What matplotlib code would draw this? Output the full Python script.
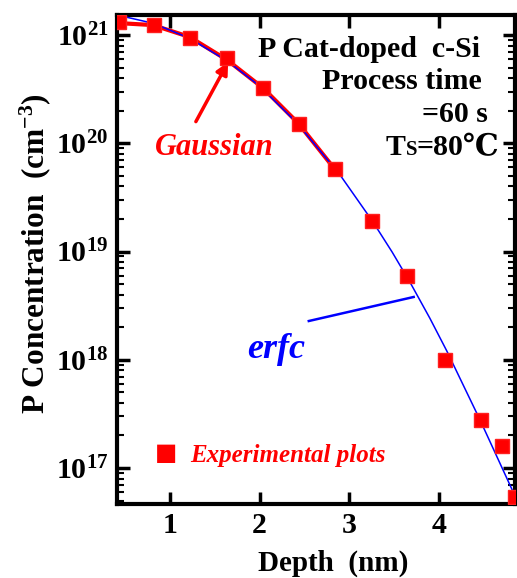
import matplotlib
matplotlib.use("Agg")
import matplotlib.pyplot as plt
import numpy as np

# measured SIMS profile
depth = [0.43, 0.82, 1.22, 1.64, 2.04, 2.44, 2.84, 3.25, 3.65, 4.07, 4.47, 4.71, 4.85]
conc = [1.32e21, 1.24e21, 9.4e20, 6.1e20, 3.24e20, 1.5e20, 5.8e19,
        1.9e19, 5.9e18, 1.0e18, 2.8e17, 1.6e17, 5.4e16]

# Gaussian fit curve (log10 of concentration)
gauss_x = [0.41, 0.81, 1.22, 1.64, 2.04, 2.43, 2.86]
gauss_logc = [21.111, 21.092, 20.982, 20.769, 20.510, 20.187, 19.74]

# erfc fit curve (log10 of concentration)
erfc_x = [0.41, 0.81, 1.22, 1.64, 2.00, 2.42, 2.90, 3.26, 3.48, 3.68, 3.90, 4.09, 4.46, 4.87]
erfc_logc = [21.185, 21.109, 20.970, 20.760, 20.530, 20.186, 19.706, 19.281,
             18.995, 18.715, 18.385, 18.081, 17.445, 16.707]

xticks = [1, 2, 3, 4]

plt.rcParams['font.family'] = ['Liberation Serif', 'DejaVu Serif']
plt.rcParams['font.weight'] = 'bold'
plt.rcParams['mathtext.fontset'] = 'custom'
plt.rcParams['mathtext.rm'] = 'Liberation Serif:bold'
plt.rcParams['mathtext.bf'] = 'Liberation Serif:bold'
plt.rcParams['mathtext.it'] = 'Liberation Serif:bold:italic'

fig = plt.figure(figsize=(5.17, 5.78), dpi=100)
ax = fig.add_axes([0.2263, 0.128, 0.7697, 0.846])

ax.plot(gauss_x, 10 ** np.array(gauss_logc), color='#ff0000', lw=3.0, zorder=2)
ax.plot(erfc_x, 10 ** np.array(erfc_logc), color='#0000ff', lw=1.1, zorder=3)
ax.plot(depth, conc, 's', color='#ff0000', ms=10, mec='#ff2020', zorder=4)

ax.set_yscale('log')
ax.set_xlim(0.41, 4.85)
ax.set_ylim(4.65e16, 1.53e21)
ax.set_xticks(xticks)
ax.set_xticklabels([str(t) for t in xticks])

for s in ax.spines.values():
    s.set_linewidth(3)
ax.tick_params(which='both', direction='in', top=True, right=True, labelsize=21.5)
ax.tick_params(which='major', length=9, width=2.5, pad=6)
ax.tick_params(which='minor', length=5, width=1.5)
ax.xaxis.set_minor_locator(matplotlib.ticker.NullLocator())
ax.yaxis.set_minor_locator(matplotlib.ticker.LogLocator(base=10, subs=np.arange(2, 10)))

ax.set_xlabel('Depth  (nm)', fontsize=21, fontweight='bold')
ax.xaxis.set_label_coords(0.543, -0.093)
ax.set_ylabel(r'P Concentration  (cm$^{-3}$)', fontsize=22.5, fontweight='bold')
ax.yaxis.set_label_coords(-0.16, 0.513)

# sample description
fig.text(480 / 517, 1 - 57 / 578, 'P Cat-doped  c-Si', ha='right', va='baseline', fontsize=21.5)
fig.text(482 / 517, 1 - 89 / 578, 'Process time', ha='right', va='baseline', fontsize=21.5)
fig.text(488 / 517, 1 - 122 / 578, '=60 s', ha='right', va='baseline', fontsize=21.5)
fig.text(386 / 517, 1 - 155 / 578, 'T', ha='left', va='baseline', fontsize=21.5)
fig.text(406 / 517, 1 - 155 / 578, 'S', ha='left', va='baseline', fontsize=15)
fig.text(417 / 517, 1 - 155 / 578, '=80℃', ha='left', va='baseline', fontsize=21.5)

# curve labels
ax.annotate('', xy=(1.65, 10 ** 20.75), xytext=(1.29, 10 ** 20.2),
            arrowprops=dict(arrowstyle='-|>', color='#ff0000', lw=2.5,
                            mutation_scale=18, shrinkA=0, shrinkB=0))
fig.text(155 / 517, 1 - 155 / 578, 'Gaussian', color='#ff0000', fontsize=22,
         fontstyle='italic', va='baseline')
ax.plot([2.55, 3.72], [10 ** 18.358, 10 ** 18.58], color='#0000ff', lw=1.8)
fig.text(247 / 517, 1 - 358 / 578, 'erfc', color='#0000ff', fontsize=26,
         fontstyle='italic', va='baseline')

# legend entry for measured points
fig.text(166 / 517, 1 - 453 / 578, '\u25a0', color='#ff0000', fontsize=17,
         family='DejaVu Sans', ha='center', va='center')
fig.text(190 / 517, 1 - 462 / 578, 'Experimental plots', color='#ff0000', fontsize=18,
         fontstyle='italic', va='baseline')

fig.savefig('out.png', dpi=100)
